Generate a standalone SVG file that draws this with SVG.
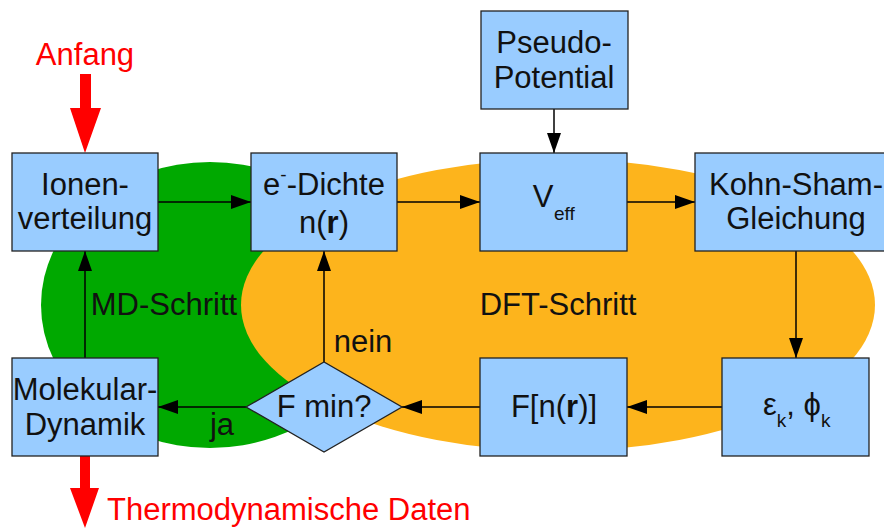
<svg xmlns="http://www.w3.org/2000/svg" width="884" height="528" viewBox="0 0 884 528">
<style>
.box{fill:#99ccff;stroke:#222;stroke-width:1.3}
.t{font-family:"Liberation Sans",Arial,sans-serif;font-size:31px;fill:#111;text-anchor:middle}
.s{font-family:"Liberation Sans",Arial,sans-serif;font-size:19px;fill:#111}
.red{font-family:"Liberation Sans",Arial,sans-serif;font-size:31px;fill:#ff0000}
.c{stroke:#000;stroke-width:1.5;fill:none;marker-end:url(#ah)}
</style>
<defs>
<marker id="ah" markerUnits="userSpaceOnUse" markerWidth="22" markerHeight="14" refX="20" refY="7" orient="auto">
<path d="M0,0 L20,7 L0,14 Z" fill="#000"/>
</marker>
</defs>
<rect width="884" height="528" fill="#fff"/>
<g id="backgrounds">
<ellipse cx="210" cy="305" rx="169" ry="143" fill="#00a900"/>
<ellipse cx="558" cy="305" rx="317" ry="146" fill="#fdb41c"/>
</g>
<g id="connectors">
<line class="c" x1="158" y1="202" x2="251" y2="202"/>
<line class="c" x1="397" y1="202" x2="480" y2="202"/>
<line class="c" x1="627" y1="202" x2="695" y2="202"/>
<line class="c" x1="796" y1="251" x2="796" y2="358"/>
<line class="c" x1="722" y1="407" x2="627" y2="407"/>
<line class="c" x1="480" y1="407" x2="402" y2="407"/>
<line class="c" x1="246" y1="407" x2="158" y2="407"/>
<line class="c" x1="324" y1="362" x2="324" y2="251"/>
<line class="c" x1="85" y1="358" x2="85" y2="251"/>
<line class="c" x1="554" y1="109" x2="554" y2="153"/>
</g>
<g id="labels">
<text class="t" x="164" y="315">MD-Schritt</text>
<text class="t" x="558" y="315">DFT-Schritt</text>
<text class="t" x="363" y="352">nein</text>
<text class="t" x="222" y="435">ja</text>
</g>
<g id="start">
<text class="red" x="85" y="65" style="text-anchor:middle">Anfang</text>
<path d="M80,74 H91 V108 H101 L85,153 L70,108 H80 Z" fill="#ff0000"/>
</g>
<g id="end">
<path d="M80,456 H90 V488 H99 L85,528 L70,488 H80 Z" fill="#ff0000"/>
<text class="red" x="107" y="520">Thermodynamische Daten</text>
</g>
<g id="pseudo">
<rect class="box" x="481" y="11" width="147" height="98"/>
<text class="t" x="554" y="53">Pseudo-</text>
<text class="t" x="554" y="88">Potential</text>
</g>
<g id="ionen">
<rect class="box" x="12" y="153" width="146" height="98"/>
<text class="t" x="85" y="195">Ionen-</text>
<text class="t" x="85" y="229">verteilung</text>
</g>
<g id="dichte">
<rect class="box" x="251" y="153" width="146" height="98"/>
<text class="t" x="324" y="195">e<tspan font-size="19" dy="-14">-</tspan><tspan dy="14">-Dichte</tspan></text>
<text class="t" x="324" y="233">n(<tspan font-weight="bold">r</tspan>)</text>
</g>
<g id="veff">
<rect class="box" x="480" y="153" width="147" height="98"/>
<text class="t" x="543" y="207">V</text>
<text class="s" x="554" y="220">eff</text>
</g>
<g id="kohnsham">
<rect class="box" x="695" y="153" width="202" height="98"/>
<text class="t" x="796" y="195">Kohn-Sham-</text>
<text class="t" x="796" y="229">Gleichung</text>
</g>
<g id="eigen">
<rect class="box" x="722" y="358" width="147" height="98"/>
<text class="t" x="763" y="415" style="text-anchor:start">ε<tspan font-size="19" dy="12">k</tspan><tspan dy="-12">, ϕ</tspan><tspan font-size="19" dy="12">k</tspan></text>
</g>
<g id="functional">
<rect class="box" x="480" y="358" width="147" height="98"/>
<text class="t" x="554" y="417">F[n(<tspan font-weight="bold">r</tspan>)]</text>
</g>
<g id="fmin">
<path class="box" d="M246,407 L324,362 L402,407 L324,452 Z"/>
<text class="t" x="324" y="417">F min?</text>
</g>
<g id="md">
<rect class="box" x="12" y="358" width="146" height="98"/>
<text class="t" x="85" y="400">Molekular-</text>
<text class="t" x="85" y="435">Dynamik</text>
</g>
</svg>
